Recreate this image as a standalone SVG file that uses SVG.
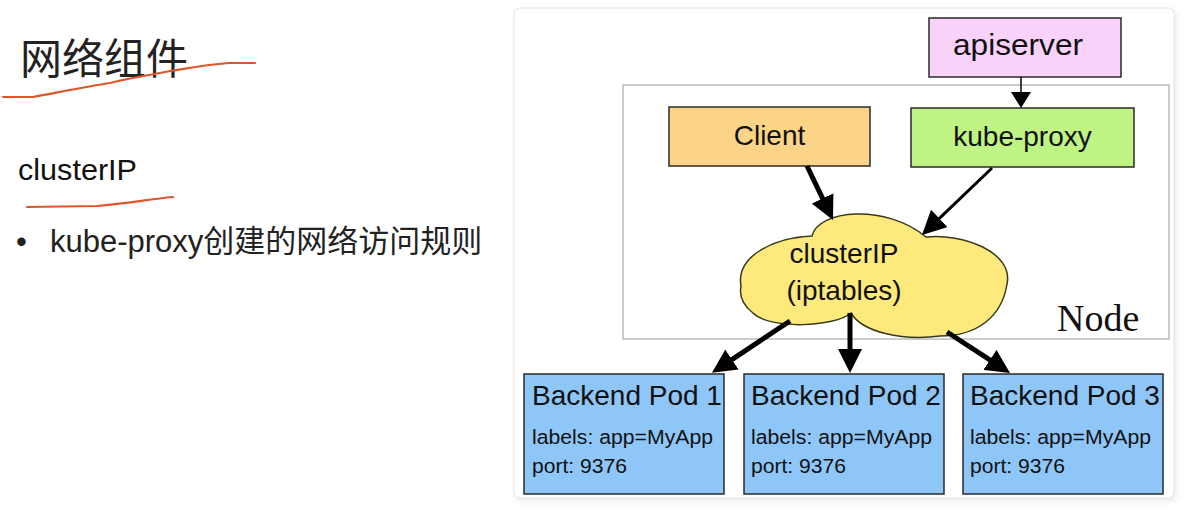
<svg xmlns="http://www.w3.org/2000/svg" width="1204" height="532" viewBox="0 0 1204 532">
<defs>
<style>
.t{font-family:"Liberation Sans",Arial,"Noto Sans CJK SC",sans-serif;fill:#111}
.cjk{font-family:"Liberation Sans","Noto Sans CJK SC",sans-serif;fill:#222}
.box{stroke:#2a2a2a;stroke-width:1.5}
.pod{fill:#8ec6f8;stroke:#2a2a2a;stroke-width:1.5}
.ink{fill:none;stroke:#e0552a;stroke-width:2.2;stroke-linecap:round;stroke-linejoin:round}
.con{fill:none;stroke:#000}
</style>
<marker id="headL" markerUnits="userSpaceOnUse" viewBox="0 0 24 24" refX="10" refY="12" markerWidth="24" markerHeight="24" orient="auto">
<path d="M0,0 L24,12 L0,24 Z" fill="#000"/>
</marker>
<marker id="headS" markerUnits="userSpaceOnUse" viewBox="0 0 16 20" refX="10" refY="10" markerWidth="16" markerHeight="20" orient="auto">
<path d="M0,0 L16,10 L0,20 Z" fill="#000"/>
</marker>
<filter id="sh" x="-5%" y="-5%" width="110%" height="110%">
<feGaussianBlur stdDeviation="3"/>
</filter>
</defs>
<rect width="1204" height="532" fill="#fff"/>

<g id="title">
<text class="cjk" x="20" y="74" font-size="42">网络组件</text>
<path class="ink" d="M3,97 L33,97 C60,92 90,86 110,83 C130,78 145,76 170,71 C190,68 210,64 230,63 L255,63"/>
</g>
<g id="subtitle">
<text class="t" x="18" y="180" font-size="30" textLength="119" lengthAdjust="spacingAndGlyphs">clusterIP</text>
<path class="ink" d="M27,207 L97,206 C130,203 150,199 173,197"/>
</g>
<g id="bullet">
<text class="cjk" x="16" y="252" font-size="31">•</text>
<text class="cjk" x="50" y="252" font-size="31">kube-proxy创建的网络访问规则</text>
</g>

<g id="panel">
<rect x="516" y="11" width="660" height="490" rx="6" fill="#e8e8e8" filter="url(#sh)"/>
<rect x="514" y="8" width="660" height="490" rx="6" fill="#fff" stroke="#e6e6e6"/>
</g>

<g id="node">
<rect x="623" y="85" width="546" height="254" fill="#fff" stroke="#a8a8a8" stroke-width="1.2"/>
<text x="1057" y="331" font-size="38" font-family="'Liberation Serif','Times New Roman',serif" fill="#111">Node</text>
</g>

<g id="apiserver">
<rect class="box" x="929" y="18" width="192" height="59" fill="#f9d2f9"/>
<text class="t" x="953" y="55" font-size="30" textLength="130" lengthAdjust="spacingAndGlyphs">apiserver</text>
</g>

<g id="client">
<rect class="box" x="669" y="107" width="201" height="59" fill="#fbd488"/>
<text class="t" x="769.5" y="145" font-size="28" text-anchor="middle">Client</text>
</g>

<g id="kube-proxy">
<rect class="box" x="911" y="108" width="223" height="59" fill="#bff384"/>
<text class="t" x="1022.5" y="146" font-size="28" text-anchor="middle">kube-proxy</text>
</g>

<g id="clusterip">
<path d="M741,286 C736,258 770,238 812,236 C818,210 885,203 926,237 C962,233 1014,252 1007,284 C1002,316 978,336 940,336 C902,341 862,332 851,313 C835,327 770,330 753,313 C743,305 739,296 741,286 Z" fill="#fde97c" stroke="#3a3a1a" stroke-width="1.5"/>
<text class="t" x="844" y="263" font-size="28" text-anchor="middle">clusterIP</text>
<text class="t" x="844" y="300" font-size="28" text-anchor="middle">(iptables)</text>
</g>

<g id="pod1">
<rect class="pod" x="524" y="374" width="200" height="120"/>
<text class="t" x="532" y="405" font-size="28">Backend Pod 1</text>
<text class="t" x="532" y="444" font-size="20" textLength="181" lengthAdjust="spacingAndGlyphs">labels: app=MyApp</text>
<text class="t" x="532" y="473" font-size="20" textLength="95" lengthAdjust="spacingAndGlyphs">port: 9376</text>
</g>
<g id="pod2">
<rect class="pod" x="744" y="374" width="200" height="120"/>
<text class="t" x="751" y="405" font-size="28">Backend Pod 2</text>
<text class="t" x="751" y="444" font-size="20" textLength="181" lengthAdjust="spacingAndGlyphs">labels: app=MyApp</text>
<text class="t" x="751" y="473" font-size="20" textLength="95" lengthAdjust="spacingAndGlyphs">port: 9376</text>
</g>
<g id="pod3">
<rect class="pod" x="963" y="374" width="200" height="120"/>
<text class="t" x="970" y="405" font-size="28">Backend Pod 3</text>
<text class="t" x="970" y="444" font-size="20" textLength="181" lengthAdjust="spacingAndGlyphs">labels: app=MyApp</text>
<text class="t" x="970" y="473" font-size="20" textLength="95" lengthAdjust="spacingAndGlyphs">port: 9376</text>
</g>

<g id="connectors">
<path class="con" d="M1021,77 L1021,102" stroke-width="1.5" marker-end="url(#headS)"/>
<path class="con" d="M807,166 L826.9,207.4" stroke-width="5" marker-end="url(#headL)"/>
<path class="con" d="M992,168 L932.1,225.3" stroke-width="3" marker-end="url(#headL)"/>
<path class="con" d="M790,321 L723.6,365.1" stroke-width="5" marker-end="url(#headL)"/>
<path class="con" d="M850,313 L850,359" stroke-width="5" marker-end="url(#headL)"/>
<path class="con" d="M947,332 L998.3,365.4" stroke-width="5" marker-end="url(#headL)"/>
</g>
</svg>
